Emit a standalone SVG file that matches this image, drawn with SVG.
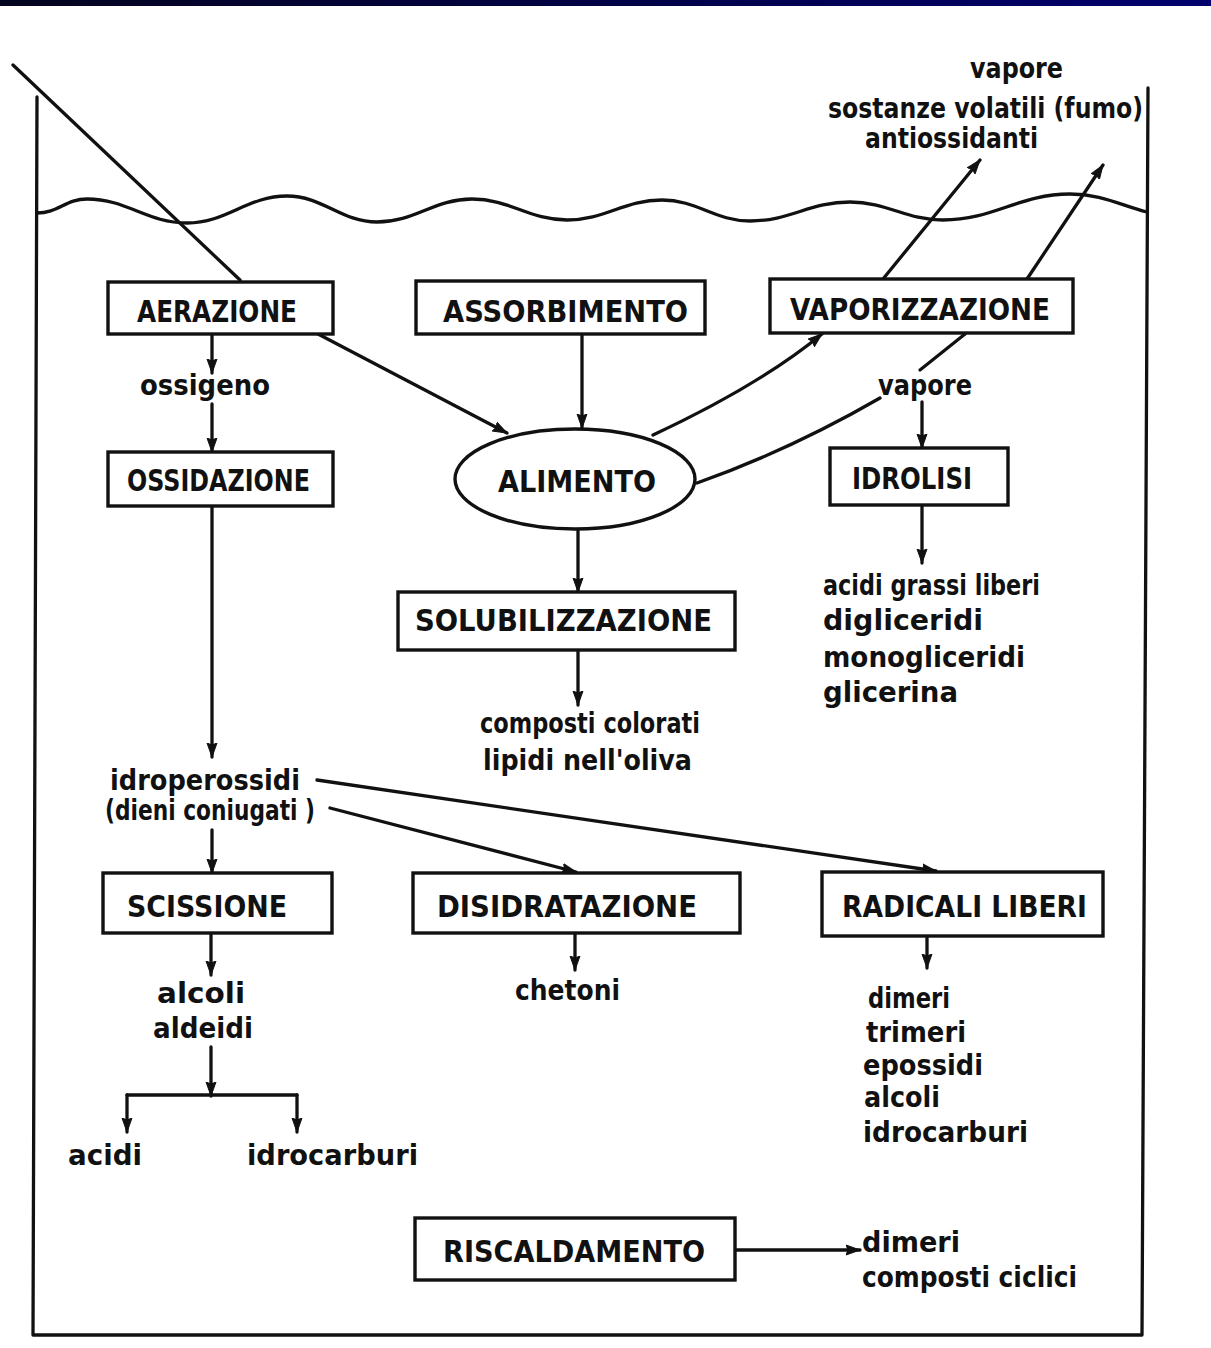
<svg xmlns="http://www.w3.org/2000/svg" width="1211" height="1348" viewBox="0 0 1211 1348">
<defs>
<linearGradient id="bar" x1="0" y1="0" x2="1" y2="0">
<stop offset="0" stop-color="#04041e"/>
<stop offset="1" stop-color="#00006e"/>
</linearGradient>
<marker id="ah" markerUnits="userSpaceOnUse" markerWidth="16" markerHeight="12" refX="14" refY="6" orient="auto">
<path d="M0,1 L14,6 L0,11 L2,6 Z" fill="#111" stroke="#111" stroke-width="1"/>
</marker>
</defs>
<style>
.ln{fill:none;stroke:#111;stroke-width:3.3;stroke-linecap:round;stroke-linejoin:round}
.box{fill:#fff;stroke:#111;stroke-width:3.4}
.t{font-family:"DejaVu Sans","Liberation Sans",sans-serif;font-weight:bold;font-size:28px;fill:#111}
.b{font-family:"DejaVu Sans","Liberation Sans",sans-serif;font-weight:bold;font-size:30px;fill:#111}
.arr{marker-end:url(#ah)}
</style>
<rect x="0" y="0" width="1211" height="1348" fill="#fff"/>
<rect x="0" y="0" width="1211" height="6" fill="url(#bar)"/>

<g id="vessel">
<path class="ln" d="M37,97 L33,1335 L1142,1335 L1148,88"/>
<path class="ln" d="M37,213 C58,213 66,199 87,199 C127,199 147,223 187,223 C227,223 247,196 287,196 C323,196 341,222 377,222 C415,222 434,199 472,199 C510,199 529,220 567,220 C605,220 624,200 662,200 C697,200 715,221 750,221 C790,221 810,202 850,202 C887,202 906,220 943,220 C994,220 1019,194 1070,194 C1101,194 1120,205 1147,212"/>
<path class="ln" d="M13,65 L240,280"/>
</g>

<g id="connectors">
<path class="ln arr" d="M212,335 L212,373"/>
<path class="ln arr" d="M212,404 L212,452"/>
<path class="ln arr" d="M212,506 L212,757"/>
<path class="ln arr" d="M212,830 L212,873"/>
<path class="ln arr" d="M211,934 L211,975"/>
<path class="ln arr" d="M211,1047 L211,1096"/>
<path class="ln" d="M127,1095 L297,1095"/>
<path class="ln arr" d="M127,1095 L127,1132"/>
<path class="ln arr" d="M297,1095 L297,1132"/>
<path class="ln arr" d="M582,334 L582,428"/>
<path class="ln arr" d="M318,334 L507,433"/>
<path class="ln arr" d="M653,435 Q760,385 822,334"/>
<path class="ln" d="M697,483 Q790,450 880,398"/>
<path class="ln" d="M965,334 L920,370"/>
<path class="ln arr" d="M922,402 L922,448"/>
<path class="ln arr" d="M922,506 L922,563"/>
<path class="ln arr" d="M883,279 L980,160"/>
<path class="ln arr" d="M1027,279 L1103,165"/>
<path class="ln arr" d="M578,529 L578,592"/>
<path class="ln arr" d="M578,651 L578,705"/>
<path class="ln arr" d="M317,780 L936,871"/>
<path class="ln arr" d="M330,808 L576,872"/>
<path class="ln arr" d="M575,934 L575,970"/>
<path class="ln arr" d="M927,938 L927,968"/>
<path class="ln arr" d="M736,1250 L860,1250"/>
</g>

<g id="aerazione"><rect class="box" x="108" y="282" width="225" height="52"/><text class="b" x="137" y="322" textLength="160" lengthAdjust="spacingAndGlyphs">AERAZIONE</text></g>
<g id="assorbimento"><rect class="box" x="416" y="281" width="289" height="53"/><text class="b" x="443" y="322" textLength="245" lengthAdjust="spacingAndGlyphs">ASSORBIMENTO</text></g>
<g id="vaporizzazione"><rect class="box" x="770" y="279" width="303" height="54"/><text class="b" x="790" y="320" textLength="260" lengthAdjust="spacingAndGlyphs">VAPORIZZAZIONE</text></g>
<g id="alimento"><ellipse class="box" cx="575" cy="479" rx="120" ry="50"/><text class="b" x="498" y="492" textLength="158" lengthAdjust="spacingAndGlyphs">ALIMENTO</text></g>
<g id="ossidazione"><rect class="box" x="108" y="452" width="225" height="54"/><text class="b" x="127" y="491" textLength="183" lengthAdjust="spacingAndGlyphs">OSSIDAZIONE</text></g>
<g id="idrolisi"><rect class="box" x="830" y="448" width="178" height="57"/><text class="b" x="852" y="489" textLength="120" lengthAdjust="spacingAndGlyphs">IDROLISI</text></g>
<g id="solubilizzazione"><rect class="box" x="398" y="592" width="337" height="58"/><text class="b" x="415" y="631" textLength="297" lengthAdjust="spacingAndGlyphs">SOLUBILIZZAZIONE</text></g>
<g id="scissione"><rect class="box" x="103" y="873" width="229" height="60"/><text class="b" x="127" y="917" textLength="160" lengthAdjust="spacingAndGlyphs">SCISSIONE</text></g>
<g id="disidratazione"><rect class="box" x="413" y="873" width="327" height="60"/><text class="b" x="437" y="917" textLength="260" lengthAdjust="spacingAndGlyphs">DISIDRATAZIONE</text></g>
<g id="radicali"><rect class="box" x="822" y="872" width="281" height="64"/><text class="b" x="842" y="917" textLength="245" lengthAdjust="spacingAndGlyphs">RADICALI LIBERI</text></g>
<g id="riscaldamento"><rect class="box" x="415" y="1218" width="320" height="62"/><text class="b" x="443" y="1262" textLength="262" lengthAdjust="spacingAndGlyphs">RISCALDAMENTO</text></g>

<g id="prodotti-vaporizzazione">
<text class="t" x="970" y="78" textLength="93" lengthAdjust="spacingAndGlyphs">vapore</text>
<text class="t" x="828" y="118" textLength="315" lengthAdjust="spacingAndGlyphs">sostanze volatili (fumo)</text>
<text class="t" x="865" y="148" textLength="173" lengthAdjust="spacingAndGlyphs">antiossidanti</text>
</g>
<g id="ossigeno"><text class="t" x="140" y="395" textLength="130" lengthAdjust="spacingAndGlyphs">ossigeno</text></g>
<g id="vapore"><text class="t" x="878" y="395" textLength="94" lengthAdjust="spacingAndGlyphs">vapore</text></g>
<g id="prodotti-idrolisi">
<text class="t" x="823" y="595" textLength="217" lengthAdjust="spacingAndGlyphs">acidi grassi liberi</text>
<text class="t" x="823" y="630" textLength="160" lengthAdjust="spacingAndGlyphs">digliceridi</text>
<text class="t" x="823" y="667" textLength="202" lengthAdjust="spacingAndGlyphs">monogliceridi</text>
<text class="t" x="823" y="702" textLength="135" lengthAdjust="spacingAndGlyphs">glicerina</text>
</g>
<g id="prodotti-solubilizzazione">
<text class="t" x="480" y="733" textLength="220" lengthAdjust="spacingAndGlyphs">composti colorati</text>
<text class="t" x="483" y="770" textLength="209" lengthAdjust="spacingAndGlyphs">lipidi nell'oliva</text>
</g>
<g id="idroperossidi">
<text class="t" x="110" y="790" textLength="190" lengthAdjust="spacingAndGlyphs">idroperossidi</text>
<text class="t" x="105" y="820" textLength="210" lengthAdjust="spacingAndGlyphs">(dieni coniugati )</text>
</g>
<g id="prodotti-scissione">
<text class="t" x="157" y="1003" textLength="88" lengthAdjust="spacingAndGlyphs">alcoli</text>
<text class="t" x="153" y="1038" textLength="100" lengthAdjust="spacingAndGlyphs">aldeidi</text>
</g>
<g id="acidi"><text class="t" x="68" y="1165" textLength="74" lengthAdjust="spacingAndGlyphs">acidi</text></g>
<g id="idrocarburi"><text class="t" x="247" y="1165" textLength="171" lengthAdjust="spacingAndGlyphs">idrocarburi</text></g>
<g id="chetoni"><text class="t" x="515" y="1000" textLength="105" lengthAdjust="spacingAndGlyphs">chetoni</text></g>
<g id="prodotti-radicali">
<text class="t" x="868" y="1008" textLength="82" lengthAdjust="spacingAndGlyphs">dimeri</text>
<text class="t" x="866" y="1042" textLength="100" lengthAdjust="spacingAndGlyphs">trimeri</text>
<text class="t" x="863" y="1075" textLength="120" lengthAdjust="spacingAndGlyphs">epossidi</text>
<text class="t" x="864" y="1107" textLength="76" lengthAdjust="spacingAndGlyphs">alcoli</text>
<text class="t" x="863" y="1142" textLength="165" lengthAdjust="spacingAndGlyphs">idrocarburi</text>
</g>
<g id="prodotti-riscaldamento">
<text class="t" x="862" y="1252" textLength="98" lengthAdjust="spacingAndGlyphs">dimeri</text>
<text class="t" x="862" y="1287" textLength="215" lengthAdjust="spacingAndGlyphs">composti ciclici</text>
</g>
</svg>
